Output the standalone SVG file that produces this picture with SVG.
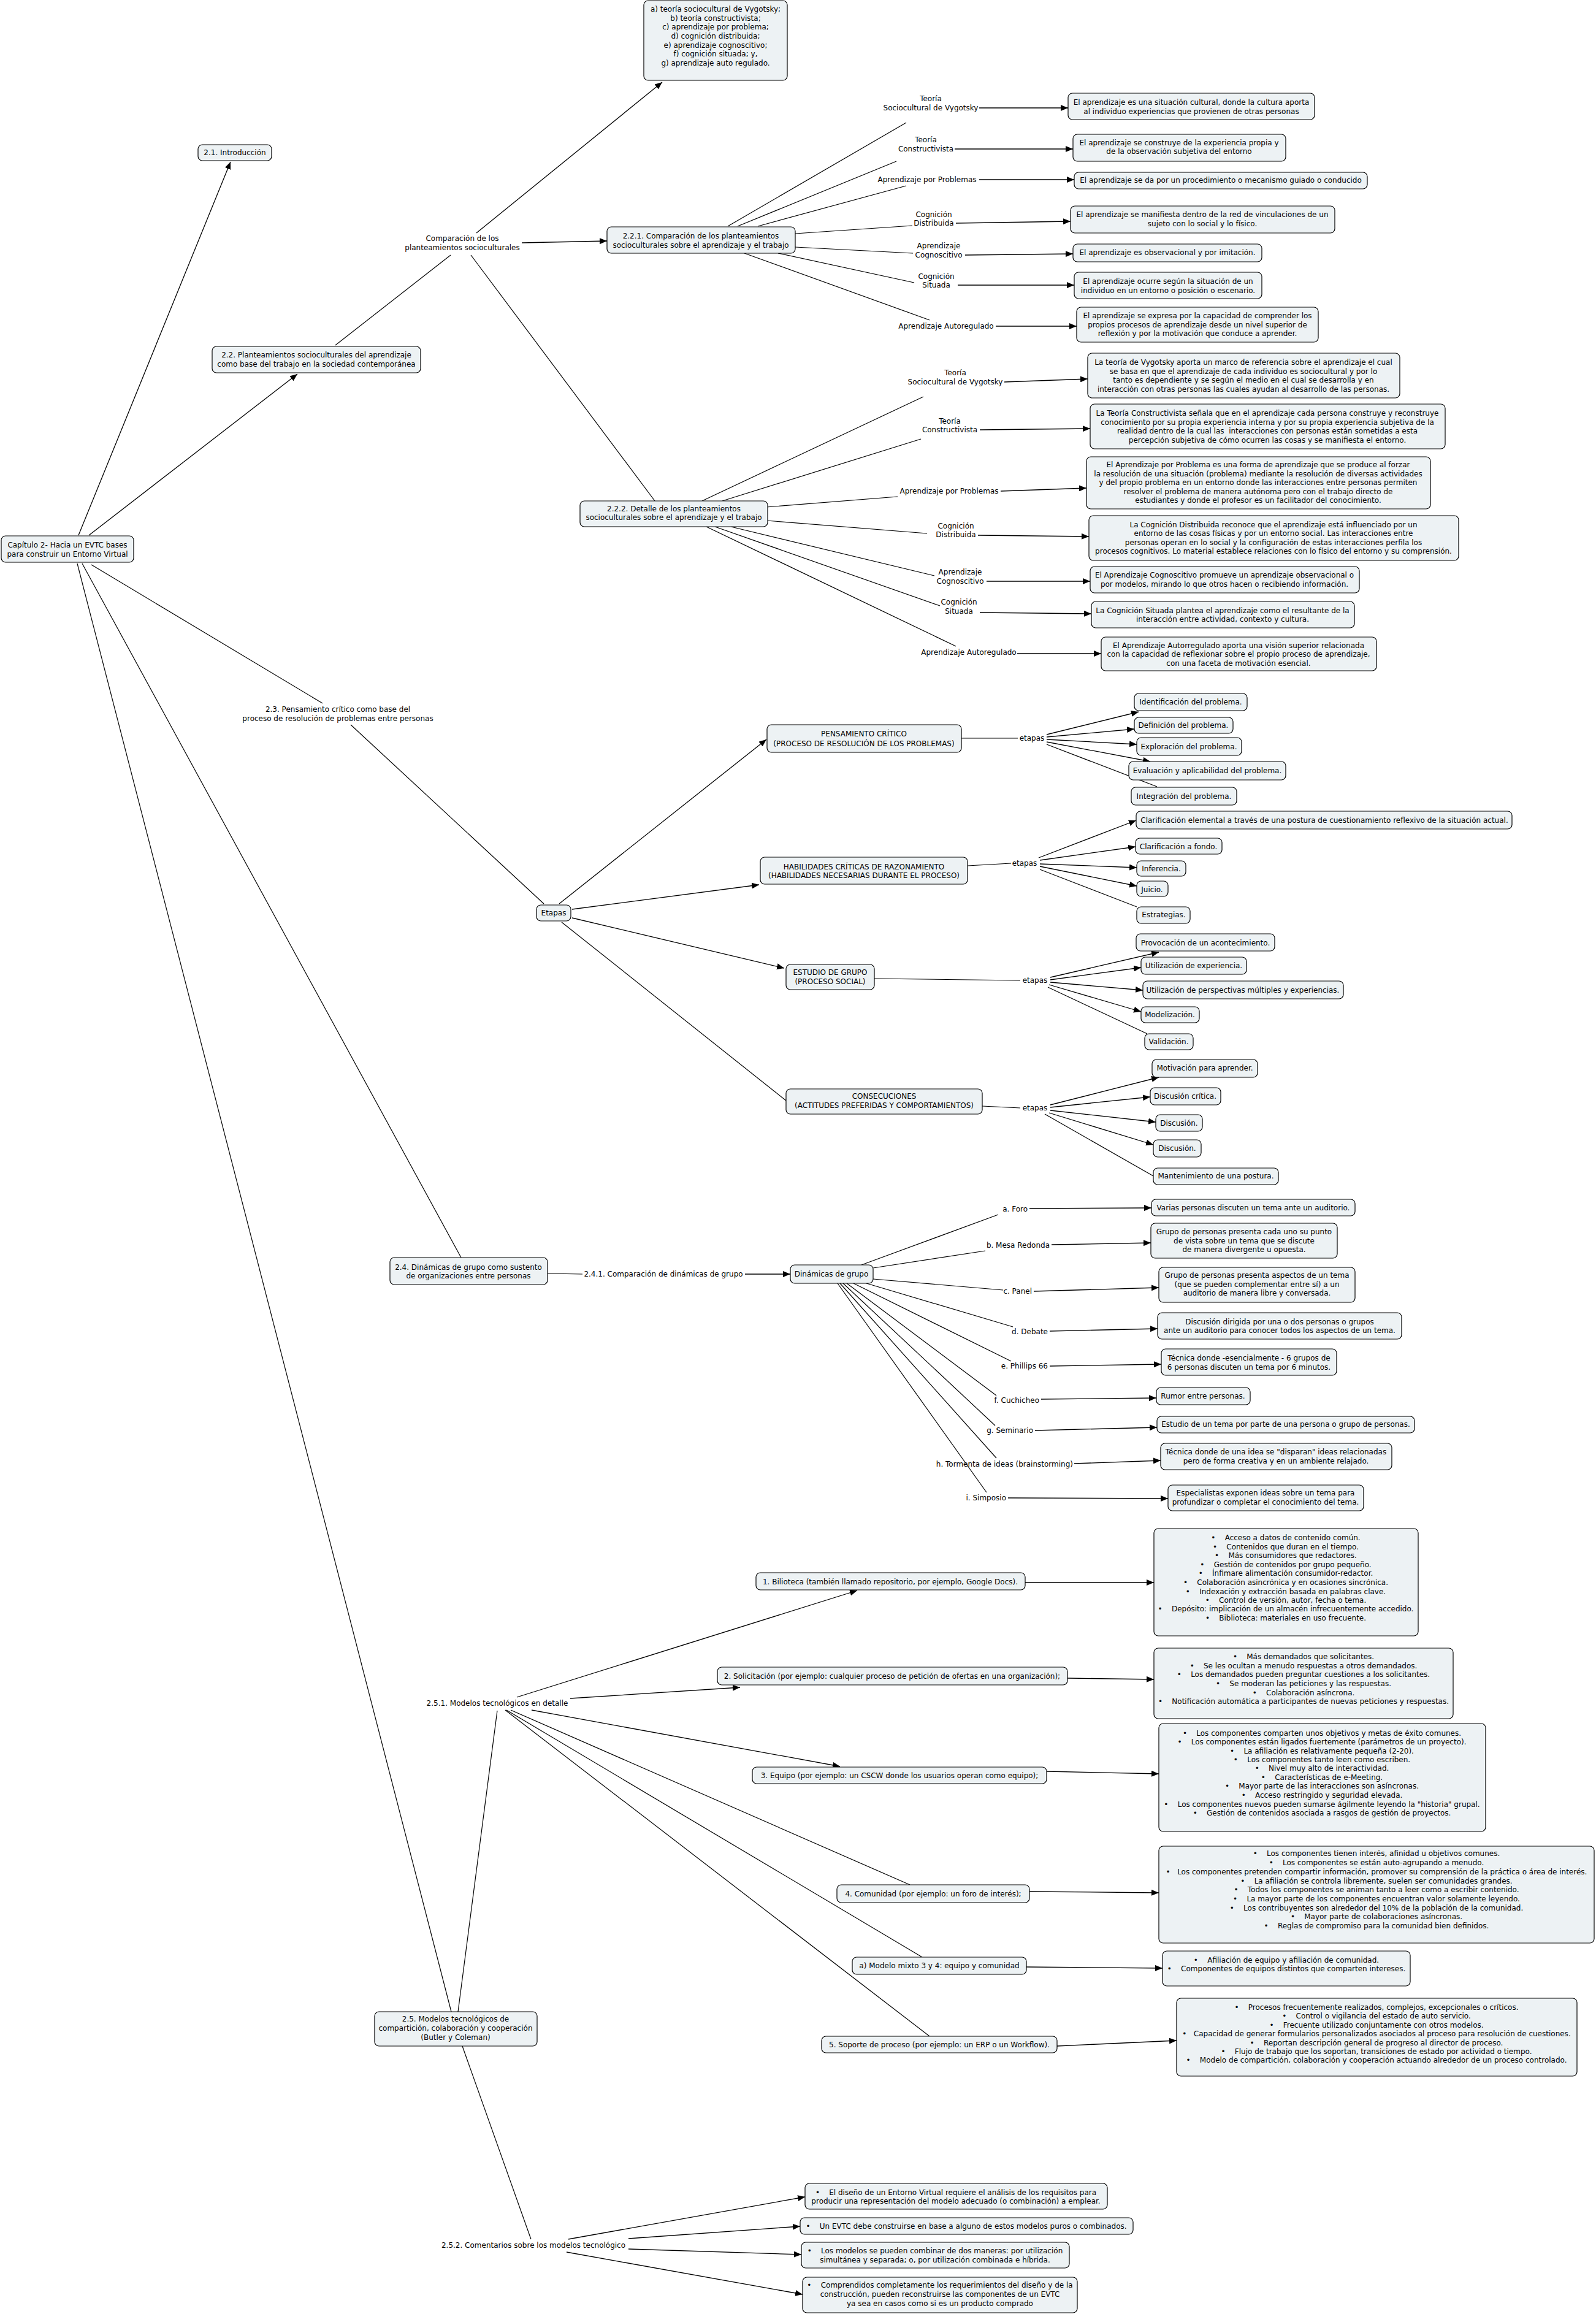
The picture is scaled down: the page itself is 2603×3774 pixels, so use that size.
<svg xmlns="http://www.w3.org/2000/svg" width="2603" height="3774" viewBox="0 0 2603 3774">
<defs>
<marker id="ah" markerWidth="12" markerHeight="10" refX="12" refY="5" orient="auto" markerUnits="userSpaceOnUse"><path d="M0,0 L12,5 L0,10 z" fill="#000"/></marker>
<style>
rect.b{fill:#edf2f4;stroke:#000;stroke-width:1.2}
text{font-family:"DejaVu Sans",Verdana,sans-serif;font-size:12px;fill:#000}
.c{text-anchor:middle}
.e{text-anchor:end}
.ln{stroke:#000;stroke-width:1.2;fill:none}
.ar{stroke:#000;stroke-width:1.3;fill:none;marker-end:url(#ah)}
</style>
</defs>
<rect x="0" y="0" width="2603" height="3774" fill="#fff"/>
<g id="connectors">
<path class="ar" d="M128,873 L376,264"/>
<path class="ar" d="M145,873 L485,610"/>
<path class="ln" d="M547,563 L735,416"/>
<path class="ar" d="M777,380 L1080,134"/>
<path class="ar" d="M851,396 L990,393"/>
<path class="ln" d="M768,416 L1068,817"/>
<path class="ln" d="M1187,369 L1478,200"/>
<path class="ln" d="M1203,369 L1462,263"/>
<path class="ln" d="M1236,369 L1478,303"/>
<path class="ln" d="M1297,381 L1488,368"/>
<path class="ln" d="M1297,403 L1489,413"/>
<path class="ln" d="M1269,413 L1491,461"/>
<path class="ln" d="M1214,413 L1516,522"/>
<path class="ar" d="M1597,176 L1742,176"/>
<path class="ar" d="M1557,243 L1750,243"/>
<path class="ar" d="M1597,293 L1752,293"/>
<path class="ar" d="M1559,364 L1746,361"/>
<path class="ar" d="M1574,416 L1750,414"/>
<path class="ar" d="M1562,465 L1752,465"/>
<path class="ar" d="M1624,532 L1756,532"/>
<path class="ln" d="M1145,817 L1506,647"/>
<path class="ln" d="M1178,817 L1502,716"/>
<path class="ln" d="M1250,827 L1464,810"/>
<path class="ln" d="M1250,849 L1512,870"/>
<path class="ln" d="M1192,859 L1524,939"/>
<path class="ln" d="M1166,859 L1533,988"/>
<path class="ln" d="M1152,859 L1559,1054"/>
<path class="ar" d="M1638,623 L1774,618"/>
<path class="ar" d="M1598,701 L1778,699"/>
<path class="ar" d="M1632,801 L1772,796"/>
<path class="ar" d="M1595,873 L1776,875"/>
<path class="ar" d="M1609,948 L1778,948"/>
<path class="ar" d="M1598,999 L1780,1001"/>
<path class="ar" d="M1659,1066 L1796,1066"/>
<path class="ln" d="M149,921 L526,1147"/>
<path class="ln" d="M572,1182 L887,1474"/>
<path class="ar" d="M912,1474 L1250,1206"/>
<path class="ar" d="M933,1483 L1238,1443"/>
<path class="ar" d="M933,1497 L1279,1579"/>
<path class="ln" d="M916,1504 L1282,1795"/>
<path class="ln" d="M1568,1204 L1660,1204"/>
<path class="ar" d="M1707,1198 L1857,1161"/>
<path class="ar" d="M1707,1202 L1850,1189"/>
<path class="ar" d="M1707,1206 L1854,1214"/>
<path class="ar" d="M1707,1210 L1876,1242"/>
<path class="ln" d="M1707,1214 L1887,1283"/>
<path class="ln" d="M1578,1412 L1649,1408"/>
<path class="ar" d="M1694,1399 L1853,1338"/>
<path class="ar" d="M1696,1403 L1852,1381"/>
<path class="ar" d="M1696,1409 L1854,1415"/>
<path class="ar" d="M1696,1413 L1854,1445"/>
<path class="ln" d="M1696,1418 L1854,1479"/>
<path class="ln" d="M1426,1596 L1664,1599"/>
<path class="ar" d="M1713,1594 L1890,1553"/>
<path class="ar" d="M1713,1598 L1861,1578"/>
<path class="ar" d="M1713,1602 L1864,1615"/>
<path class="ar" d="M1711,1606 L1861,1650"/>
<path class="ln" d="M1709,1610 L1871,1686"/>
<path class="ln" d="M1602,1804 L1664,1807"/>
<path class="ar" d="M1713,1802 L1890,1757"/>
<path class="ar" d="M1713,1806 L1876,1789"/>
<path class="ar" d="M1713,1811 L1885,1830"/>
<path class="ar" d="M1711,1815 L1881,1867"/>
<path class="ln" d="M1704,1817 L1881,1918"/>
<path class="ln" d="M134,919 L752,2051"/>
<path class="ln" d="M893,2077 L950,2078"/>
<path class="ar" d="M1215,2078 L1289,2078"/>
<path class="ln" d="M1405,2063 L1628,1981"/>
<path class="ln" d="M1424,2068 L1607,2040"/>
<path class="ln" d="M1424,2086 L1636,2104"/>
<path class="ln" d="M1413,2093 L1652,2164"/>
<path class="ln" d="M1392,2093 L1649,2220"/>
<path class="ln" d="M1381,2093 L1625,2276"/>
<path class="ln" d="M1375,2093 L1623,2325"/>
<path class="ln" d="M1370,2093 L1625,2378"/>
<path class="ln" d="M1366,2093 L1609,2434"/>
<path class="ar" d="M1679,1971 L1878,1970"/>
<path class="ar" d="M1715,2030 L1877,2027"/>
<path class="ar" d="M1686,2106 L1890,2100"/>
<path class="ar" d="M1712,2171 L1888,2167"/>
<path class="ar" d="M1712,2228 L1894,2225"/>
<path class="ar" d="M1698,2282 L1886,2280"/>
<path class="ar" d="M1688,2333 L1887,2328"/>
<path class="ar" d="M1752,2387 L1893,2382"/>
<path class="ar" d="M1644,2443 L1905,2444"/>
<path class="ln" d="M126,919 L736,3281"/>
<path class="ln" d="M747,3281 L811,2790"/>
<path class="ar" d="M843,2768 L1398,2594"/>
<path class="ar" d="M930,2770 L1207,2752"/>
<path class="ar" d="M867,2789 L1370,2881"/>
<path class="ln" d="M833,2789 L1484,3074"/>
<path class="ln" d="M826,2789 L1504,3192"/>
<path class="ln" d="M824,2789 L1516,3321"/>
<path class="ar" d="M1672,2581 L1882,2581"/>
<path class="ar" d="M1741,2737 L1882,2739"/>
<path class="ar" d="M1707,2889 L1890,2893"/>
<path class="ar" d="M1679,3085 L1890,3087"/>
<path class="ar" d="M1674,3208 L1896,3210"/>
<path class="ar" d="M1724,3337 L1919,3328"/>
<path class="ln" d="M754,3337 L866,3652"/>
<path class="ar" d="M927,3652 L1313,3583"/>
<path class="ar" d="M1025,3651 L1305,3631"/>
<path class="ar" d="M1025,3668 L1307,3677"/>
<path class="ar" d="M924,3673 L1309,3742"/>
</g>
<g id="n-main"><rect class="b" x="2" y="874" width="216" height="43" rx="7"/><text class="c"><tspan x="110" y="893">Capítulo 2- Hacia un EVTC bases</tspan><tspan x="110" y="907.5">para construir un Entorno Virtual</tspan></text></g>
<g id="n-21"><rect class="b" x="323" y="236" width="120" height="26" rx="7"/><text class="c" x="383" y="253">2.1. Introducción</text></g>
<g id="n-22"><rect class="b" x="346" y="565" width="340" height="43" rx="7"/><text class="c"><tspan x="516" y="583">2.2. Planteamientos socioculturales del aprendizaje</tspan><tspan x="516" y="597.5">como base del trabajo en la sociedad contemporánea</tspan></text></g>
<g id="l-comp"><text class="c"><tspan x="754" y="393">Comparación de los</tspan><tspan x="754" y="408">planteamientos socioculturales</tspan></text></g>
<g id="n-list-teorias"><rect class="b" x="1050" y="1" width="234" height="130" rx="7"/><text class="c"><tspan x="1167" y="19">a) teoría sociocultural de Vygotsky;</tspan><tspan x="1167" y="33.5">b) teoría constructivista;</tspan><tspan x="1167" y="48">c) aprendizaje por problema;</tspan><tspan x="1167" y="63">d) cognición distribuida;</tspan><tspan x="1167" y="77.5">e) aprendizaje cognoscitivo;</tspan><tspan x="1167" y="92">f) cognición situada; y,</tspan><tspan x="1167" y="106.5">g) aprendizaje auto regulado.</tspan></text></g>
<g id="n-221"><rect class="b" x="990" y="370" width="307" height="43" rx="7"/><text class="c"><tspan x="1143" y="389">2.2.1. Comparación de los planteamientos</tspan><tspan x="1143" y="404">socioculturales sobre el aprendizaje y el trabajo</tspan></text></g>
<g id="l-a1"><text class="c"><tspan x="1518" y="165">Teoría</tspan><tspan x="1518" y="180">Sociocultural de Vygotsky</tspan></text></g>
<g id="n-a1"><rect class="b" x="1742" y="152" width="402" height="43" rx="7"/><text class="c"><tspan x="1943" y="171">El aprendizaje es una situación cultural, donde la cultura aporta</tspan><tspan x="1943" y="186">al individuo experiencias que provienen de otras personas</tspan></text></g>
<g id="l-a2"><text class="c"><tspan x="1510" y="232">Teoría</tspan><tspan x="1510" y="247">Constructivista</tspan></text></g>
<g id="n-a2"><rect class="b" x="1750" y="219" width="347" height="44" rx="7"/><text class="c"><tspan x="1923" y="237">El aprendizaje se construye de la experiencia propia y</tspan><tspan x="1923" y="251">de la observación subjetiva del entorno</tspan></text></g>
<g id="l-a3"><text class="c" x="1512" y="297">Aprendizaje por Problemas</text></g>
<g id="n-a3"><rect class="b" x="1752" y="281" width="478" height="27" rx="7"/><text class="c" x="1991" y="298">El aprendizaje se da por un procedimiento o mecanismo guiado o conducido</text></g>
<g id="l-a4"><text class="c"><tspan x="1523" y="354">Cognición</tspan><tspan x="1523" y="368">Distribuida</tspan></text></g>
<g id="n-a4"><rect class="b" x="1746" y="336" width="431" height="44" rx="7"/><text class="c"><tspan x="1961" y="354">El aprendizaje se manifiesta dentro de la red de vinculaciones de un</tspan><tspan x="1961" y="369">sujeto con lo social y lo físico.</tspan></text></g>
<g id="l-a5"><text class="c"><tspan x="1531" y="405">Aprendizaje</tspan><tspan x="1531" y="420">Cognoscitivo</tspan></text></g>
<g id="n-a5"><rect class="b" x="1750" y="398" width="308" height="29" rx="7"/><text class="c" x="1904" y="416">El aprendizaje es observacional y por imitación.</text></g>
<g id="l-a6"><text class="c"><tspan x="1527" y="455">Cognición</tspan><tspan x="1527" y="469">Situada</tspan></text></g>
<g id="n-a6"><rect class="b" x="1752" y="444" width="306" height="43" rx="7"/><text class="c"><tspan x="1905" y="463">El aprendizaje ocurre según la situación de un</tspan><tspan x="1905" y="478">individuo en un entorno o posición o escenario.</tspan></text></g>
<g id="l-a7"><text class="c" x="1543" y="536">Aprendizaje Autoregulado</text></g>
<g id="n-a7"><rect class="b" x="1756" y="501" width="394" height="57" rx="7"/><text class="c"><tspan x="1953" y="519">El aprendizaje se expresa por la capacidad de comprender los</tspan><tspan x="1953" y="534">propios procesos de aprendizaje desde un nivel superior de</tspan><tspan x="1953" y="548">reflexión y por la motivación que conduce a aprender.</tspan></text></g>
<g id="n-222"><rect class="b" x="946" y="817" width="306" height="42" rx="7"/><text class="c"><tspan x="1099" y="834">2.2.2. Detalle de los planteamientos</tspan><tspan x="1099" y="848">socioculturales sobre el aprendizaje y el trabajo</tspan></text></g>
<g id="l-b1"><text class="c"><tspan x="1558" y="611.5">Teoría</tspan><tspan x="1558" y="627">Sociocultural de Vygotsky</tspan></text></g>
<g id="n-b1"><rect class="b" x="1774" y="576" width="509" height="73" rx="7"/><text class="c"><tspan x="2028" y="595">La teoría de Vygotsky aporta un marco de referencia sobre el aprendizaje el cual</tspan><tspan x="2028" y="610">se basa en que el aprendizaje de cada individuo es sociocultural y por lo</tspan><tspan x="2028" y="624">tanto es dependiente y se según el medio en el cual se desarrolla y en</tspan><tspan x="2028" y="639">interacción con otras personas las cuales ayudan al desarrollo de las personas.</tspan></text></g>
<g id="l-b2"><text class="c"><tspan x="1549" y="691">Teoría</tspan><tspan x="1549" y="705">Constructivista</tspan></text></g>
<g id="n-b2"><rect class="b" x="1778" y="659" width="579" height="73" rx="7"/><text class="c"><tspan x="2067" y="678">La Teoría Constructivista señala que en el aprendizaje cada persona construye y reconstruye</tspan><tspan x="2067" y="693">conocimiento por su propia experiencia interna y por su propia experiencia subjetiva de la</tspan><tspan x="2067" y="707">realidad dentro de la cual las&#160; interacciones con personas están sometidas a esta</tspan><tspan x="2067" y="722">percepción subjetiva de cómo ocurren las cosas y se manifiesta el entorno.</tspan></text></g>
<g id="l-b3"><text class="c" x="1548" y="805">Aprendizaje por Problemas</text></g>
<g id="n-b3"><rect class="b" x="1772" y="745" width="561" height="85" rx="7"/><text class="c"><tspan x="2052" y="762">El Aprendizaje por Problema es una forma de aprendizaje que se produce al forzar</tspan><tspan x="2052" y="777">la resolución de una situación (problema) mediante la resolución de diversas actividades</tspan><tspan x="2052" y="791">y del propio problema en un entorno donde las interacciones entre personas permiten</tspan><tspan x="2052" y="806">resolver el problema de manera autónoma pero con el trabajo directo de</tspan><tspan x="2052" y="820">estudiantes y donde el profesor es un facilitador del conocimiento.</tspan></text></g>
<g id="l-b4"><text class="c"><tspan x="1559" y="862">Cognición</tspan><tspan x="1559" y="876">Distribuida</tspan></text></g>
<g id="n-b4"><rect class="b" x="1776" y="841" width="603" height="73" rx="7"/><text class="c"><tspan x="2077" y="860">La Cognición Distribuida reconoce que el aprendizaje está influenciado por un</tspan><tspan x="2077" y="874">entorno de las cosas físicas y por un entorno social. Las interacciones entre</tspan><tspan x="2077" y="889">personas operan en lo social y la configuración de estas interacciones perfila los</tspan><tspan x="2077" y="903">procesos cognitivos. Lo material establece relaciones con lo físico del entorno y su comprensión.</tspan></text></g>
<g id="l-b5"><text class="c"><tspan x="1566" y="937">Aprendizaje</tspan><tspan x="1566" y="952">Cognoscitivo</tspan></text></g>
<g id="n-b5"><rect class="b" x="1778" y="924" width="439" height="43" rx="7"/><text class="c"><tspan x="1997" y="942">El Aprendizaje Cognoscitivo promueve un aprendizaje observacional o</tspan><tspan x="1997" y="957">por modelos, mirando lo que otros hacen o recibiendo información.</tspan></text></g>
<g id="l-b6"><text class="c"><tspan x="1564" y="986">Cognición</tspan><tspan x="1564" y="1001">Situada</tspan></text></g>
<g id="n-b6"><rect class="b" x="1780" y="981" width="429" height="43" rx="7"/><text class="c"><tspan x="1994" y="1000">La Cognición Situada plantea el aprendizaje como el resultante de la</tspan><tspan x="1994" y="1014">interacción entre actividad, contexto y cultura.</tspan></text></g>
<g id="l-b7"><text class="c" x="1580" y="1068">Aprendizaje Autoregulado</text></g>
<g id="n-b7"><rect class="b" x="1796" y="1039" width="449" height="55" rx="7"/><text class="c"><tspan x="2020" y="1057">El Aprendizaje Autorregulado aporta una visión superior relacionada</tspan><tspan x="2020" y="1071">con la capacidad de reflexionar sobre el propio proceso de aprendizaje,</tspan><tspan x="2020" y="1086">con una faceta de motivación esencial.</tspan></text></g>
<g id="l-23"><text class="c"><tspan x="551" y="1161">2.3. Pensamiento crítico como base del</tspan><tspan x="551" y="1176">proceso de resolución de problemas entre personas</tspan></text></g>
<g id="n-etapas"><rect class="b" x="875" y="1476" width="56" height="26" rx="7"/><text class="c" x="903" y="1493">Etapas</text></g>
<g id="n-pens"><rect class="b" x="1251" y="1182" width="317" height="45" rx="7"/><text class="c"><tspan x="1409" y="1201">PENSAMIENTO CRÍTICO</tspan><tspan x="1409" y="1217">(PROCESO DE RESOLUCIÓN DE LOS PROBLEMAS)</tspan></text></g>
<g id="l-et1"><text class="c" x="1683" y="1208">etapas</text></g>
<g id="n-p1"><rect class="b" x="1850" y="1131" width="184" height="28" rx="7"/><text class="c" x="1942" y="1149">Identificación del problema.</text></g>
<g id="n-p2"><rect class="b" x="1850" y="1170" width="161" height="26" rx="7"/><text class="c" x="1930" y="1187">Definición del problema.</text></g>
<g id="n-p3"><rect class="b" x="1854" y="1203" width="171" height="29" rx="7"/><text class="c" x="1939" y="1222">Exploración del problema.</text></g>
<g id="n-p4"><rect class="b" x="1841" y="1242" width="256" height="30" rx="7"/><text class="c" x="1969" y="1261">Evaluación y aplicabilidad del problema.</text></g>
<g id="n-p5"><rect class="b" x="1845" y="1284" width="172" height="29" rx="7"/><text class="c" x="1931" y="1303">Integración del problema.</text></g>
<g id="n-hab"><rect class="b" x="1240" y="1398" width="338" height="44" rx="7"/><text class="c"><tspan x="1409" y="1418">HABILIDADES CRÍTICAS DE RAZONAMIENTO</tspan><tspan x="1409" y="1432">(HABILIDADES NECESARIAS DURANTE EL PROCESO)</tspan></text></g>
<g id="l-et2"><text class="c" x="1671" y="1412">etapas</text></g>
<g id="n-h1"><rect class="b" x="1853" y="1323" width="613" height="29" rx="7"/><text class="c" x="2160" y="1342">Clarificación elemental a través de una postura de cuestionamiento reflexivo de la situación actual.</text></g>
<g id="n-h2"><rect class="b" x="1852" y="1367" width="141" height="26" rx="7"/><text class="c" x="1922" y="1385">Clarificación a fondo.</text></g>
<g id="n-h3"><rect class="b" x="1854" y="1404" width="80" height="25" rx="7"/><text class="c" x="1894" y="1421">Inferencia.</text></g>
<g id="n-h4"><rect class="b" x="1854" y="1437" width="51" height="25" rx="7"/><text class="c" x="1879" y="1455">Juicio.</text></g>
<g id="n-h5"><rect class="b" x="1854" y="1479" width="87" height="27" rx="7"/><text class="c" x="1898" y="1496">Estrategias.</text></g>
<g id="n-est"><rect class="b" x="1282" y="1573" width="144" height="41" rx="7"/><text class="c"><tspan x="1354" y="1590">ESTUDIO DE GRUPO</tspan><tspan x="1354" y="1605">(PROCESO SOCIAL)</tspan></text></g>
<g id="l-et3"><text class="c" x="1688" y="1603">etapas</text></g>
<g id="n-e1"><rect class="b" x="1853" y="1523" width="226" height="28" rx="7"/><text class="c" x="1966" y="1542">Provocación de un acontecimiento.</text></g>
<g id="n-e2"><rect class="b" x="1861" y="1561" width="172" height="28" rx="7"/><text class="c" x="1947" y="1579">Utilización de experiencia.</text></g>
<g id="n-e3"><rect class="b" x="1864" y="1600" width="327" height="29" rx="7"/><text class="c" x="2027" y="1619">Utilización de perspectivas múltiples y experiencias.</text></g>
<g id="n-e4"><rect class="b" x="1861" y="1642" width="95" height="26" rx="7"/><text class="c" x="1908" y="1659">Modelización.</text></g>
<g id="n-e5"><rect class="b" x="1867" y="1686" width="79" height="26" rx="7"/><text class="c" x="1906" y="1703">Validación.</text></g>
<g id="n-cons"><rect class="b" x="1282" y="1776" width="320" height="41" rx="7"/><text class="c"><tspan x="1442" y="1792">CONSECUCIONES</tspan><tspan x="1442" y="1807">(ACTITUDES PREFERIDAS Y COMPORTAMIENTOS)</tspan></text></g>
<g id="l-et4"><text class="c" x="1688" y="1811">etapas</text></g>
<g id="n-c1"><rect class="b" x="1879" y="1728" width="172" height="29" rx="7"/><text class="c" x="1965" y="1746">Motivación para aprender.</text></g>
<g id="n-c2"><rect class="b" x="1876" y="1774" width="115" height="28" rx="7"/><text class="c" x="1933" y="1792">Discusión crítica.</text></g>
<g id="n-c3"><rect class="b" x="1885" y="1818" width="76" height="27" rx="7"/><text class="c" x="1923" y="1836">Discusión.</text></g>
<g id="n-c4"><rect class="b" x="1881" y="1859" width="78" height="28" rx="7"/><text class="c" x="1920" y="1877">Discusión.</text></g>
<g id="n-c5"><rect class="b" x="1881" y="1905" width="204" height="27" rx="7"/><text class="c" x="1983" y="1922">Mantenimiento de una postura.</text></g>
<g id="n-24"><rect class="b" x="636" y="2051" width="257" height="44" rx="7"/><text class="c"><tspan x="764" y="2071">2.4. Dinámicas de grupo como sustento</tspan><tspan x="764" y="2085">de organizaciones entre personas</tspan></text></g>
<g id="l-241"><text class="c" x="1082" y="2082">2.4.1. Comparación de dinámicas de grupo</text></g>
<g id="n-din"><rect class="b" x="1289" y="2063" width="135" height="30" rx="7"/><text class="c" x="1356" y="2082">Dinámicas de grupo</text></g>
<g id="l-da"><text class="e" x="1676" y="1976">a. Foro</text></g>
<g id="n-da"><rect class="b" x="1878" y="1956" width="332" height="27" rx="7"/><text class="c" x="2044" y="1974">Varias personas discuten un tema ante un auditorio.</text></g>
<g id="l-db"><text class="e" x="1712" y="2035">b. Mesa Redonda</text></g>
<g id="n-db"><rect class="b" x="1877" y="1995" width="304" height="57" rx="7"/><text class="c"><tspan x="2029" y="2013">Grupo de personas presenta cada uno su punto</tspan><tspan x="2029" y="2028">de vista sobre un tema que se discute</tspan><tspan x="2029" y="2042">de manera divergente u opuesta.</tspan></text></g>
<g id="l-dc"><text class="e" x="1683" y="2110">c. Panel</text></g>
<g id="n-dc"><rect class="b" x="1890" y="2067" width="320" height="57" rx="7"/><text class="c"><tspan x="2050" y="2084">Grupo de personas presenta aspectos de un tema</tspan><tspan x="2050" y="2099">(que se pueden complementar entre sí) a un</tspan><tspan x="2050" y="2113">auditorio de manera libre y conversada.</tspan></text></g>
<g id="l-dd"><text class="e" x="1709" y="2176">d. Debate</text></g>
<g id="n-dd"><rect class="b" x="1888" y="2141" width="398" height="43" rx="7"/><text class="c"><tspan x="2087" y="2160">Discusión dirigida por una o dos personas o grupos</tspan><tspan x="2087" y="2174">ante un auditorio para conocer todos los aspectos de un tema.</tspan></text></g>
<g id="l-de"><text class="e" x="1709" y="2232">e. Phillips 66</text></g>
<g id="n-de"><rect class="b" x="1894" y="2200" width="286" height="43" rx="7"/><text class="c"><tspan x="2037" y="2219">Técnica donde -esencialmente - 6 grupos de</tspan><tspan x="2037" y="2234">6 personas discuten un tema por 6 minutos.</tspan></text></g>
<g id="l-df"><text class="e" x="1695" y="2288">f. Cuchicheo</text></g>
<g id="n-df"><rect class="b" x="1886" y="2263" width="153" height="28" rx="7"/><text class="c" x="1962" y="2281">Rumor entre personas.</text></g>
<g id="l-dg"><text class="e" x="1685" y="2337">g. Seminario</text></g>
<g id="n-dg"><rect class="b" x="1887" y="2310" width="420" height="27" rx="7"/><text class="c" x="2097" y="2327">Estudio de un tema por parte de una persona o grupo de personas.</text></g>
<g id="l-dh"><text class="e" x="1750" y="2392">h. Tormenta de ideas (brainstorming)</text></g>
<g id="n-dh"><rect class="b" x="1893" y="2354" width="377" height="43" rx="7"/><text class="c"><tspan x="2081" y="2372">Técnica donde de una idea se "disparan" ideas relacionadas</tspan><tspan x="2081" y="2387">pero de forma creativa y en un ambiente relajado.</tspan></text></g>
<g id="l-di"><text class="e" x="1641" y="2447">i. Simposio</text></g>
<g id="n-di"><rect class="b" x="1905" y="2422" width="319" height="42" rx="7"/><text class="c"><tspan x="2064" y="2439">Especialistas exponen ideas sobre un tema para</tspan><tspan x="2064" y="2454">profundizar o completar el conocimiento del tema.</tspan></text></g>
<g id="n-25"><rect class="b" x="611" y="3281" width="265" height="56" rx="7"/><text class="c"><tspan x="743" y="3297">2.5. Modelos tecnológicos de</tspan><tspan x="743" y="3312">compartición, colaboración y cooperación</tspan><tspan x="743" y="3327">(Butler y Coleman)</tspan></text></g>
<g id="l-251"><text class="c" x="811" y="2782">2.5.1. Modelos tecnológicos en detalle</text></g>
<g id="n-bib"><rect class="b" x="1233" y="2565" width="439" height="28" rx="7"/><text class="c" x="1452" y="2584">1. Bilioteca (también llamado repositorio, por ejemplo, Google Docs).</text></g>
<g id="n-bib-list"><rect class="b" x="1882" y="2493" width="431" height="175" rx="7"/><text class="c"><tspan x="2097" y="2512">•&#160;&#160;&#160;&#160;Acceso a datos de contenido común.</tspan><tspan x="2097" y="2527">•&#160;&#160;&#160;&#160;Contenidos que duran en el tiempo.</tspan><tspan x="2097" y="2541">•&#160;&#160;&#160;&#160;Más consumidores que redactores.</tspan><tspan x="2097" y="2556">•&#160;&#160;&#160;&#160;Gestión de contenidos por grupo pequeño.</tspan><tspan x="2097" y="2570">•&#160;&#160;&#160;&#160;Ínfimare alimentación consumidor-redactor.</tspan><tspan x="2097" y="2585">•&#160;&#160;&#160;&#160;Colaboración asincrónica y en ocasiones sincrónica.</tspan><tspan x="2097" y="2600">•&#160;&#160;&#160;&#160;Indexación y extracción basada en palabras clave.</tspan><tspan x="2097" y="2614">•&#160;&#160;&#160;&#160;Control de versión, autor, fecha o tema.</tspan><tspan x="2097" y="2628">•&#160;&#160;&#160;&#160;Depósito: implicación de un almacén infrecuentemente accedido.</tspan><tspan x="2097" y="2643">•&#160;&#160;&#160;&#160;Biblioteca: materiales en uso frecuente.</tspan></text></g>
<g id="n-sol"><rect class="b" x="1170" y="2719" width="571" height="29" rx="7"/><text class="c" x="1455" y="2738">2. Solicitación (por ejemplo: cualquier proceso de petición de ofertas en una organización);</text></g>
<g id="n-sol-list"><rect class="b" x="1882" y="2688" width="488" height="115" rx="7"/><text class="c"><tspan x="2126" y="2706">•&#160;&#160;&#160;&#160;Más demandados que solicitantes.</tspan><tspan x="2126" y="2721">•&#160;&#160;&#160;&#160;Se les ocultan a menudo respuestas a otros demandados.</tspan><tspan x="2126" y="2735">•&#160;&#160;&#160;&#160;Los demandados pueden preguntar cuestiones a los solicitantes.</tspan><tspan x="2126" y="2750">•&#160;&#160;&#160;&#160;Se moderan las peticiones y las respuestas.</tspan><tspan x="2126" y="2765">•&#160;&#160;&#160;&#160;Colaboración asíncrona.</tspan><tspan x="2126" y="2779">•&#160;&#160;&#160;&#160;Notificación automática a participantes de nuevas peticiones y respuestas.</tspan></text></g>
<g id="n-eq"><rect class="b" x="1227" y="2882" width="480" height="27" rx="7"/><text class="c" x="1467" y="2900">3. Equipo (por ejemplo: un CSCW donde los usuarios operan como equipo);</text></g>
<g id="n-eq-list"><rect class="b" x="1890" y="2811" width="533" height="176" rx="7"/><text class="c"><tspan x="2156" y="2831">•&#160;&#160;&#160;&#160;Los componentes comparten unos objetivos y metas de éxito comunes.</tspan><tspan x="2156" y="2845">•&#160;&#160;&#160;&#160;Los componentes están ligados fuertemente (parámetros de un proyecto).</tspan><tspan x="2156" y="2860">•&#160;&#160;&#160;&#160;La afiliación es relativamente pequeña (2-20).</tspan><tspan x="2156" y="2874">•&#160;&#160;&#160;&#160;Los componentes tanto leen como escriben.</tspan><tspan x="2156" y="2888">•&#160;&#160;&#160;&#160;Nivel muy alto de interactividad.</tspan><tspan x="2156" y="2903">•&#160;&#160;&#160;&#160;Características de e-Meeting.</tspan><tspan x="2156" y="2917">•&#160;&#160;&#160;&#160;Mayor parte de las interacciones son asíncronas.</tspan><tspan x="2156" y="2932">•&#160;&#160;&#160;&#160;Acceso restringido y seguridad elevada.</tspan><tspan x="2156" y="2947">•&#160;&#160;&#160;&#160;Los componentes nuevos pueden sumarse ágilmente leyendo la "historia" grupal.</tspan><tspan x="2156" y="2961">•&#160;&#160;&#160;&#160;Gestión de contenidos asociada a rasgos de gestión de proyectos.</tspan></text></g>
<g id="n-com"><rect class="b" x="1365" y="3074" width="314" height="29" rx="7"/><text class="c" x="1522" y="3093">4. Comunidad (por ejemplo: un foro de interés);</text></g>
<g id="n-com-list"><rect class="b" x="1890" y="3011" width="710" height="158" rx="7"/><text class="c"><tspan x="2245" y="3027">•&#160;&#160;&#160;&#160;Los componentes tienen interés, afinidad u objetivos comunes.</tspan><tspan x="2245" y="3042">•&#160;&#160;&#160;&#160;Los componentes se están auto-agrupando a menudo.</tspan><tspan x="2245" y="3057">•&#160;&#160;&#160;Los componentes pretenden compartir información, promover su comprensión de la práctica o área de interés.</tspan><tspan x="2245" y="3072">•&#160;&#160;&#160;&#160;La afiliación se controla libremente, suelen ser comunidades grandes.</tspan><tspan x="2245" y="3086">•&#160;&#160;&#160;&#160;Todos los componentes se animan tanto a leer como a escribir contenido.</tspan><tspan x="2245" y="3101">•&#160;&#160;&#160;&#160;La mayor parte de los componentes encuentran valor solamente leyendo.</tspan><tspan x="2245" y="3116">•&#160;&#160;&#160;&#160;Los contribuyentes son alrededor del 10% de la población de la comunidad.</tspan><tspan x="2245" y="3130">•&#160;&#160;&#160;&#160;Mayor parte de colaboraciones asíncronas.</tspan><tspan x="2245" y="3145">•&#160;&#160;&#160;&#160;Reglas de compromiso para la comunidad bien definidos.</tspan></text></g>
<g id="n-mix"><rect class="b" x="1390" y="3192" width="284" height="28" rx="7"/><text class="c" x="1532" y="3210">a) Modelo mixto 3 y 4: equipo y comunidad</text></g>
<g id="n-mix-list"><rect class="b" x="1896" y="3182" width="404" height="57" rx="7"/><text class="c"><tspan x="2098" y="3201">•&#160;&#160;&#160;&#160;Afiliación de equipo y afiliación de comunidad.</tspan><tspan x="2098" y="3215">•&#160;&#160;&#160;&#160;Componentes de equipos distintos que comparten intereses.</tspan></text></g>
<g id="n-sop"><rect class="b" x="1340" y="3321" width="384" height="27" rx="7"/><text class="c" x="1532" y="3339">5. Soporte de proceso (por ejemplo: un ERP o un Workflow).</text></g>
<g id="n-sop-list"><rect class="b" x="1919" y="3259" width="653" height="127" rx="7"/><text class="c"><tspan x="2245" y="3278">•&#160;&#160;&#160;&#160;Procesos frecuentemente realizados, complejos, excepcionales o críticos.</tspan><tspan x="2245" y="3292">•&#160;&#160;&#160;&#160;Control o vigilancia del estado de auto servicio.</tspan><tspan x="2245" y="3307">•&#160;&#160;&#160;&#160;Frecuente utilizado conjuntamente con otros modelos.</tspan><tspan x="2245" y="3321">•&#160;&#160;&#160;Capacidad de generar formularios personalizados asociados al proceso para resolución de cuestiones.</tspan><tspan x="2245" y="3336">•&#160;&#160;&#160;&#160;Reportan descripción general de progreso al director de proceso.</tspan><tspan x="2245" y="3350">•&#160;&#160;&#160;&#160;Flujo de trabajo que los soportan, transiciones de estado por actividad o tiempo.</tspan><tspan x="2245" y="3364">•&#160;&#160;&#160;&#160;Modelo de compartición, colaboración y cooperación actuando alrededor de un proceso controlado.</tspan></text></g>
<g id="l-252"><text class="c" x="870" y="3666">2.5.2. Comentarios sobre los modelos tecnológico</text></g>
<g id="n-k1"><rect class="b" x="1313" y="3561" width="493" height="42" rx="7"/><text class="c"><tspan x="1559" y="3580">•&#160;&#160;&#160;&#160;El diseño de un Entorno Virtual requiere el análisis de los requisitos para</tspan><tspan x="1559" y="3594">producir una representación del modelo adecuado (o combinación) a emplear.</tspan></text></g>
<g id="n-k2"><rect class="b" x="1305" y="3617" width="543" height="27" rx="7"/><text class="c" x="1576" y="3635">•&#160;&#160;&#160;&#160;Un EVTC debe construirse en base a alguno de estos modelos puros o combinados.</text></g>
<g id="n-k3"><rect class="b" x="1307" y="3657" width="437" height="42" rx="7"/><text class="c"><tspan x="1525" y="3675">•&#160;&#160;&#160;&#160;Los modelos se pueden combinar de dos maneras: por utilización</tspan><tspan x="1525" y="3690">simultánea y separada; o, por utilización combinada e híbrida.</tspan></text></g>
<g id="n-k4"><rect class="b" x="1309" y="3714" width="448" height="58" rx="7"/><text class="c"><tspan x="1533" y="3731">•&#160;&#160;&#160;&#160;Comprendidos completamente los requerimientos del diseño y de la</tspan><tspan x="1533" y="3746">construcción, pueden reconstruirse las componentes de un EVTC</tspan><tspan x="1533" y="3761">ya sea en casos como si es un producto comprado</tspan></text></g>
</svg>
